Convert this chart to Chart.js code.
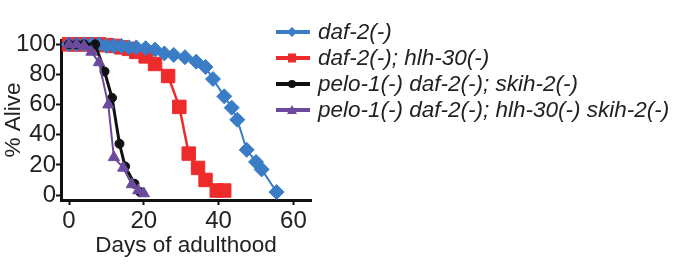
<!DOCTYPE html>
<html>
<head>
<meta charset="utf-8">
<script src="https://cdn.jsdelivr.net/npm/chart.js@4.4.1/dist/chart.umd.min.js"></script>
<style>
  html, body { margin: 0; padding: 0; background: #fff; }
  #wrap { position: relative; width: 685px; height: 274px; overflow: hidden; }
  #legend { position: absolute; left: 276px; top: 0; font-family: "Liberation Sans", Arial, sans-serif; }
  .row { position: absolute; left: 0; height: 26px; display: flex; align-items: center; white-space: nowrap; }
  .row svg { width: 36px; height: 16px; }
  .row span { margin-left: 6px; font-size: 22.5px; font-style: italic; color: #222; }
</style>
</head>
<body>
<div id="wrap">
  <canvas id="chart" width="685" height="274"></canvas>
  <div id="legend"></div>
</div>
<script>
// survival data
const blueDays = [0, 2, 4, 6, 8, 10, 12, 14, 16, 18, 20.5, 23, 25.5, 28, 31, 34, 36.5, 38.5, 41.5, 43.5, 45, 47.5, 50, 51.5, 55.5];
const blueAlive = [100, 100, 100, 100, 100, 99, 99, 99, 98, 98, 97.5, 96.5, 94, 93, 91.5, 88.5, 85, 77, 65.5, 58, 50, 30, 22, 17, 2];

const redDays = [0, 2, 4, 6, 8, 10, 12, 14, 16, 18, 20.5, 23, 26.5, 29.5, 32, 34.5, 36.5, 39.5, 41.5];
const redAlive = [100, 100, 100, 100, 100, 99.5, 99, 98, 97, 95, 92, 87, 79, 58.5, 27.5, 18, 10, 3, 3];

const blackDays = [0, 2, 4, 7, 9.5, 11.5, 13.5, 15, 17.5, 19];
const blackAlive = [100, 100, 100, 100, 82, 64.5, 34, 19, 7.5, 2];

const purpleDays = [0, 2, 4, 6, 8, 10.5, 12, 14.5, 16.8, 18.5, 20];
const purpleAlive = [100, 100, 99, 95, 88, 60, 25, 18, 7, 3, 1];

const seriesNames = ["daf-2(-)", "daf-2(-); hlh-30(-)", "pelo-1(-) daf-2(-); skih-2(-)", "pelo-1(-) daf-2(-); hlh-30(-) skih-2(-)"];
const seriesColors = ["#3a7cc6", "#ee2b2b", "#111111", "#6b4a9e"];

const xTicks = [0, 20, 40, 60];
const yTicks = [0, 20, 40, 60, 80, 100];

const pts = (xs, ys) => xs.map((x, i) => ({ x: x, y: ys[i] }));

const font = "'Liberation Sans', Arial, sans-serif";

const mkSet = (i, xs, ys, style, radius, width, order) => ({
  label: seriesNames[i],
  data: pts(xs, ys),
  borderColor: seriesColors[i],
  backgroundColor: seriesColors[i],
  borderWidth: width,
  pointStyle: style,
  pointRadius: radius,
  pointBorderWidth: 1,
  pointHoverRadius: radius,
  tension: 0,
  clip: false,
  order: order,
});

const axisStyle = {
  border: { color: "#111", width: 3 },
  grid: { display: true, drawOnChartArea: false, drawTicks: true, tickLength: 5, tickWidth: 2, tickColor: "#111" },
};

new Chart(document.getElementById("chart"), {
  type: "line",
  data: {
    datasets: [
      mkSet(0, blueDays, blueAlive, "rectRot", 7.5, 2, 2),
      mkSet(1, redDays, redAlive, "rect", 9.5, 2.5, 3),
      mkSet(2, blackDays, blackAlive, "circle", 4.5, 3, 1),
      mkSet(3, purpleDays, purpleAlive, "triangle", 6.5, 2, 0),
    ],
  },
  options: {
    responsive: false,
    animation: false,
    layout: { padding: { top: 40, left: 0, right: 374, bottom: 15 } },
    plugins: { legend: { display: false }, tooltip: { enabled: false } },
    scales: {
      x: {
        type: "linear",
        min: -2.14,
        max: 64.7,
        ...axisStyle,
        afterBuildTicks: (s) => { s.ticks = xTicks.map((v) => ({ value: v })); },
        afterFit: (s) => { s.height = 59; },
        ticks: { color: "#222", font: { family: font, size: 24 }, padding: 2, maxRotation: 0 },
        title: { display: true, text: "Days of adulthood", color: "#222", font: { family: font, size: 22.5 }, padding: { top: 0, bottom: 0 } },
      },
      y: {
        type: "linear",
        min: -3.3,
        max: 102.9,
        ...axisStyle,
        afterBuildTicks: (s) => { s.ticks = yTicks.map((v) => ({ value: v })); },
        afterFit: (s) => { s.width = 61; },
        ticks: { color: "#222", font: { family: font, size: 24 }, padding: 0 },
        title: { display: true, text: "% Alive", color: "#222", font: { family: font, size: 22.5 }, padding: 0 },
      },
    },
  },
});

// legend rows built as html
const markers = [
  '<polygon points="16,3 21,8 16,13 11,8" fill="C"/>',
  '<rect x="12" y="3.5" width="8" height="9" fill="C"/>',
  '<circle cx="16" cy="8" r="4" fill="C"/>',
  '<polygon points="16,3 21,12 11,12" fill="C"/>',
];
const legend = document.getElementById("legend");
seriesNames.forEach((name, i) => {
  const row = document.createElement("div");
  row.className = "row";
  row.style.top = (18.5 + i * 26.3) + "px";
  const c = seriesColors[i];
  row.innerHTML =
    '<svg viewBox="0 0 36 16"><line x1="0" y1="8" x2="34" y2="8" stroke="' + c + '" stroke-width="4"/>' +
    markers[i].replace("C", c) + "</svg><span>" + name + "</span>";
  legend.appendChild(row);
});
</script>
</body>
</html>
